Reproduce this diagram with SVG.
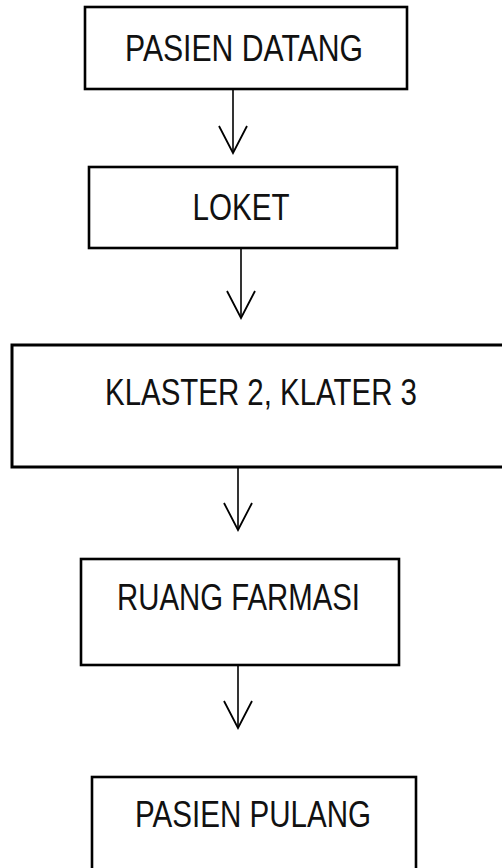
<svg xmlns="http://www.w3.org/2000/svg" width="502" height="868" viewBox="0 0 502 868">
  <style>
    .box { fill: #ffffff; stroke: #000000; stroke-width: 2.6; }
    .lbl { font-family: "Liberation Sans", Arial, sans-serif; font-size: 37px; fill: #111111; text-anchor: middle; }
    .conn { stroke: #000000; stroke-width: 1.6; fill: none; }
  </style>
  <defs>
    <marker id="vhead" markerUnits="userSpaceOnUse" markerWidth="40" markerHeight="40" refX="0" refY="0" orient="auto" overflow="visible">
      <path d="M-27,-14 L0,0 L-27,14" fill="none" stroke="#000000" stroke-width="1.8"/>
    </marker>
  </defs>
  <rect x="0" y="0" width="502" height="868" fill="#ffffff"/>

  <g id="connectors">
    <line class="conn" x1="233" y1="89" x2="233" y2="153" marker-end="url(#vhead)"/>
    <line class="conn" x1="241" y1="248" x2="241" y2="318" marker-end="url(#vhead)"/>
    <line class="conn" x1="238" y1="467" x2="238" y2="530" marker-end="url(#vhead)"/>
    <line class="conn" x1="238" y1="665" x2="238" y2="728" marker-end="url(#vhead)"/>
  </g>

  <g id="node-pasien-datang">
    <rect class="box" x="85" y="7" width="322" height="82"/>
    <text class="lbl" x="244" y="61" textLength="238" lengthAdjust="spacingAndGlyphs">PASIEN DATANG</text>
  </g>

  <g id="node-loket">
    <rect class="box" x="89" y="167" width="308" height="81"/>
    <text class="lbl" x="241" y="220" textLength="97" lengthAdjust="spacingAndGlyphs">LOKET</text>
  </g>

  <g id="node-klaster">
    <rect class="box" x="12" y="345" width="494" height="122" style="stroke-width:3"/>
    <text class="lbl" x="261" y="405" textLength="312" lengthAdjust="spacingAndGlyphs">KLASTER 2, KLATER 3</text>
  </g>

  <g id="node-ruang-farmasi">
    <rect class="box" x="81" y="559" width="318" height="106"/>
    <text class="lbl" x="238.5" y="610" textLength="243" lengthAdjust="spacingAndGlyphs">RUANG FARMASI</text>
  </g>

  <g id="node-pasien-pulang">
    <rect class="box" x="92" y="777" width="324" height="100"/>
    <text class="lbl" x="253" y="827" textLength="236" lengthAdjust="spacingAndGlyphs">PASIEN PULANG</text>
  </g>
</svg>
